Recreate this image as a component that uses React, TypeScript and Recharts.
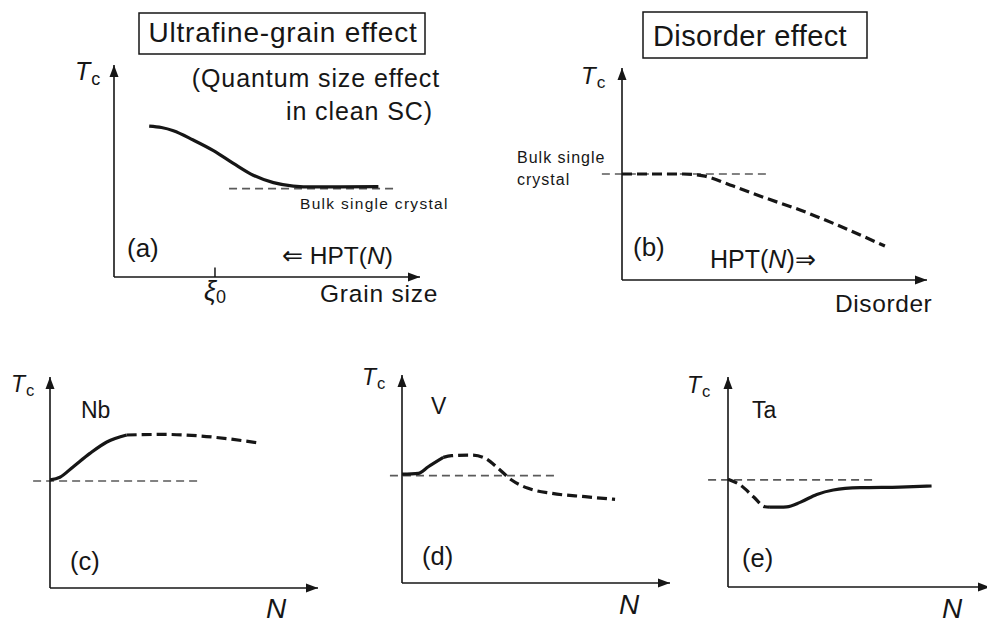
import { LineChart, Line, XAxis, YAxis, ReferenceLine, ReferenceDot } from "recharts";

// all curves live in a 0..100 x 0..100 schematic space per panel
const aX = [11.5, 15.5, 19.4, 25.9, 32.5, 39.0, 45.5, 52.1, 58.6, 65.1, 73.9, 86.4];
const aY = [71.2, 70.5, 69.0, 64.6, 59.6, 53.6, 48.0, 44.5, 42.9, 42.5, 42.5, 42.6];
const aBulk = { y: 41.7, from: 37.6, to: 91.2 };
const xi0 = 33;

const bX = [0, 20.1, 26.7, 36.5, 47.4, 58.4, 69.3, 86.2];
const bY = [50, 50, 49.1, 44.3, 38.5, 33.0, 26.7, 16.0];
const bBulk = { y: 50, from: -6.6, to: 47.5 };

const cSolidX = [0, 3.7, 8.7, 14.9, 21.2, 28.6];
const cSolidY = [51.2, 52.5, 57.5, 63.8, 69.2, 72.5];
const cDashX = [28.6, 42.3, 54.7, 67.2, 77.1];
const cDashY = [72.5, 72.8, 72.2, 70.6, 68.9];
const cBulk = { y: 50.7, from: -6.3, to: 55.2 };

const dSolidX = [0, 6.1, 9.8, 15.4];
const dSolidY = [52.3, 52.7, 55.9, 60.4];
const dDashX = [15.4, 18.5, 26.0, 31.0, 35.9, 40.9, 47.1, 55.9, 68.3, 79.5];
const dDashY = [60.4, 61.2, 61.5, 60.0, 55.1, 49.5, 45.5, 43.1, 41.5, 40.2];
const dBulk = { y: 51.6, from: -4.5, to: 57.1 };

const eDashX = [0, 4.6, 9.7, 14.1, 16.0];
const eDashY = [51.3, 48.6, 43.0, 38.2, 38.0];
const eSolidX = [16.0, 22.4, 27.5, 33.9, 40.2, 50.4, 65.6, 77.7];
const eSolidY = [38.0, 38.2, 40.3, 44.1, 46.2, 47.3, 47.6, 48.1];
const eBulk = { y: 51.0, from: -7.6, to: 55.3 };

const INK = "#161616";
const FONT = "'Liberation Sans', Arial, Helvetica, sans-serif";
const M = 30;

type Box = { left: number; top: number; right: number; bottom: number };
type Series = { xs: number[]; ys: number[]; dashed: boolean };

const toPts = (xs: number[], ys: number[]) => xs.map((x, i) => ({ x, y: ys[i] }));

const ArrowRight = (p: any) => (
  <path d={`M${p.cx},${p.cy} L${p.cx - 12},${p.cy - 4.5} L${p.cx - 12},${p.cy + 4.5} Z`} fill={INK} />
);
const ArrowUp = (p: any) => (
  <path d={`M${p.cx},${p.cy} L${p.cx - 4.5},${p.cy + 12} L${p.cx + 4.5},${p.cy + 12} Z`} fill={INK} />
);

function Panel({ box, series, bulk, tickAt }: { box: Box; series: Series[]; bulk: { y: number; from: number; to: number }; tickAt?: number }) {
  const w = box.right - box.left;
  const h = box.bottom - box.top;
  return (
    <div style={{ position: "absolute", left: box.left - M, top: box.top - M }}>
      <LineChart width={w + 2 * M} height={h + 2 * M} margin={{ top: M, right: M, bottom: M - 1, left: M - 1 }}>
        <XAxis
          type="number"
          dataKey="x"
          domain={[0, 100]}
          height={1}
          allowDataOverflow
          tick={false}
          tickLine={false}
          axisLine={{ stroke: INK, strokeWidth: 1.6 }}
        />
        <YAxis
          type="number"
          dataKey="y"
          domain={[0, 100]}
          width={1}
          allowDataOverflow
          tick={false}
          tickLine={false}
          axisLine={{ stroke: INK, strokeWidth: 1.6 }}
        />
        <ReferenceLine
          segment={[{ x: bulk.from, y: bulk.y }, { x: bulk.to, y: bulk.y }]}
          stroke="#5a5a5a"
          strokeWidth={1.6}
          strokeDasharray="8 5"
          ifOverflow="visible"
        />
        {tickAt !== undefined && (
          <ReferenceLine
            segment={[{ x: tickAt, y: 0 }, { x: tickAt, y: 4.5 }]}
            stroke={INK}
            strokeWidth={1.5}
            ifOverflow="visible"
          />
        )}
        {series.map((s, i) => (
          <Line
            key={i}
            data={toPts(s.xs, s.ys)}
            dataKey="y"
            type="monotone"
            stroke={INK}
            strokeWidth={3.2}
            strokeDasharray={s.dashed ? "10 5" : undefined}
            dot={false}
            activeDot={false}
            isAnimationActive={false}
          />
        ))}
        <ReferenceDot x={100} y={0} r={0} ifOverflow="visible" shape={ArrowRight} />
        <ReferenceDot x={0} y={100} r={0} ifOverflow="visible" shape={ArrowUp} />
      </LineChart>
    </div>
  );
}

function Tc({ x, y, size, dy = 5 }: { x: number; y: number; size: number; dy?: number }) {
  return (
    <text x={x} y={y} fontSize={size} fill={INK}>
      <tspan fontStyle="italic">T</tspan>
      <tspan fontSize={size * 0.72} dy={dy} dx={1}>c</tspan>
    </text>
  );
}

function Annotations() {
  return (
    <svg width={987} height={623} style={{ position: "absolute", left: 0, top: 0, pointerEvents: "none" }} fontFamily={FONT}>
      {/* (a) */}
      <rect x={139} y={13} width={286} height={41} fill="none" stroke={INK} strokeWidth={1.5} />
      <text x={283} y={42} fontSize={28} letterSpacing={0.8} textAnchor="middle" fill={INK}>Ultrafine-grain effect</text>
      <Tc x={75} y={80} size={25} />
      <text x={440} y={87} fontSize={25} letterSpacing={0.9} textAnchor="end" fill={INK}>(Quantum size effect</text>
      <text x={433} y={120} fontSize={25} letterSpacing={0.9} textAnchor="end" fill={INK}>in clean SC)</text>
      <text x={300} y={209} fontSize={15.5} letterSpacing={1.3} fill={INK}>Bulk single crystal</text>
      <text x={127} y={257} fontSize={26} fill={INK}>(a)</text>
      <text x={282} y={264} fontSize={24.5} fill={INK}>
        ⇐ HPT(<tspan fontStyle="italic">N</tspan>)
      </text>
      <text x={204} y={300} fontSize={27} fill={INK}>
        <tspan fontStyle="italic">ξ</tspan>
        <tspan fontSize={18} dy={3}>0</tspan>
      </text>
      <text x={320} y={302} fontSize={24.5} letterSpacing={0.8} fill={INK}>Grain size</text>

      {/* (b) */}
      <rect x={643} y={12} width={224} height={46} fill="none" stroke={INK} strokeWidth={1.5} />
      <text x={750} y={46} fontSize={29} letterSpacing={0.4} textAnchor="middle" fill={INK}>Disorder effect</text>
      <Tc x={581} y={84} size={24} dy={4} />
      <text x={517} y={163} fontSize={16} letterSpacing={1} fill={INK}>Bulk single</text>
      <text x={517} y={185} fontSize={16} letterSpacing={1} fill={INK}>crystal</text>
      <text x={633} y={256} fontSize={26} fill={INK}>(b)</text>
      <text x={710} y={268} fontSize={25} fill={INK}>
        HPT(<tspan fontStyle="italic">N</tspan>)⇒
      </text>
      <text x={835} y={312} fontSize={24.5} letterSpacing={0.6} fill={INK}>Disorder</text>

      {/* (c) */}
      <Tc x={11} y={392} size={23} dy={4} />
      <text x={81} y={418} fontSize={23} fill={INK}>Nb</text>
      <text x={70} y={570} fontSize={25.5} fill={INK}>(c)</text>
      <text x={266} y={618} fontSize={28} fontStyle="italic" fill={INK}>N</text>

      {/* (d) */}
      <Tc x={362} y={385} size={23} dy={4} />
      <text x={431} y={414} fontSize={23} fill={INK}>V</text>
      <text x={422} y={565} fontSize={25.5} fill={INK}>(d)</text>
      <text x={619} y={614} fontSize={28} fontStyle="italic" fill={INK}>N</text>

      {/* (e) */}
      <Tc x={687} y={393} size={23} dy={4} />
      <text x={752} y={418} fontSize={23} fill={INK}>Ta</text>
      <text x={742} y={567} fontSize={25.5} fill={INK}>(e)</text>
      <text x={942} y={618} fontSize={28} fontStyle="italic" fill={INK}>N</text>
    </svg>
  );
}

export default function App() {
  return (
    <div style={{ position: "absolute", left: 0, top: 0, width: 987, height: 623, overflow: "hidden", background: "#fff", fontFamily: FONT }}>
      <Panel box={{ left: 114, top: 65, right: 420, bottom: 277 }} series={[{ xs: aX, ys: aY, dashed: false }]} bulk={aBulk} tickAt={xi0} />
      <Panel box={{ left: 622, top: 68, right: 927, bottom: 280 }} series={[{ xs: bX, ys: bY, dashed: true }]} bulk={bBulk} />
      <Panel
        box={{ left: 50, top: 377, right: 318, bottom: 588 }}
        series={[
          { xs: cSolidX, ys: cSolidY, dashed: false },
          { xs: cDashX, ys: cDashY, dashed: true },
        ]}
        bulk={cBulk}
      />
      <Panel
        box={{ left: 402, top: 375, right: 670, bottom: 583 }}
        series={[
          { xs: dSolidX, ys: dSolidY, dashed: false },
          { xs: dDashX, ys: dDashY, dashed: true },
        ]}
        bulk={dBulk}
      />
      <Panel
        box={{ left: 728, top: 377, right: 990, bottom: 587 }}
        series={[
          { xs: eDashX, ys: eDashY, dashed: true },
          { xs: eSolidX, ys: eSolidY, dashed: false },
        ]}
        bulk={eBulk}
      />
      <Annotations />
    </div>
  );
}
